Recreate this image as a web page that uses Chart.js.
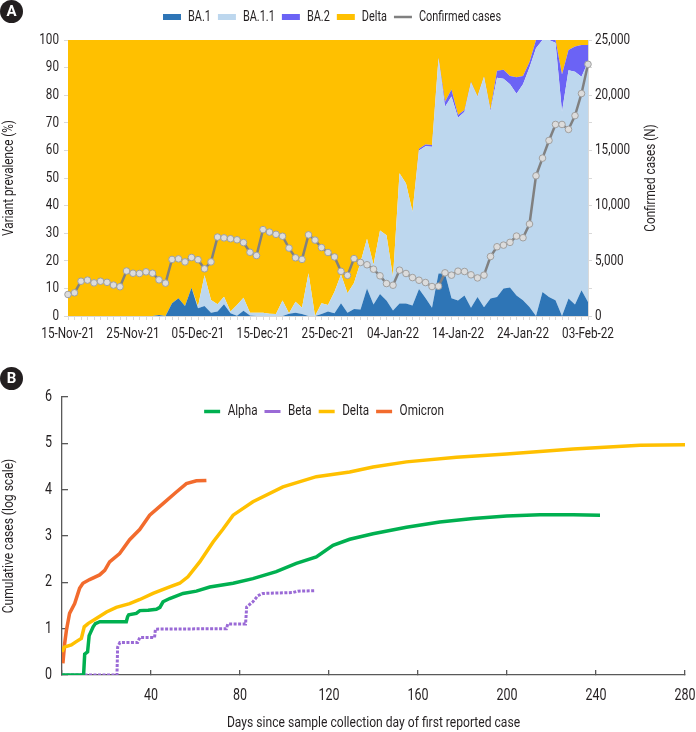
<!DOCTYPE html>
<html>
<head>
<meta charset="utf-8">
<script src="https://cdn.jsdelivr.net/npm/chart.js@4.4.1/dist/chart.umd.min.js"></script>
<style>
  body { margin: 0; width: 696px; height: 732px; background: #fff; position: relative; overflow: hidden; }
  .wrap { position: absolute; left: 0; width: 696px; }
  .badge { position: absolute; width: 23px; height: 23px; border-radius: 50%; background: #231F20; color: #fff;
           font: bold 15px Roboto, 'Liberation Sans', sans-serif; text-align: center; line-height: 23px; }
</style>
</head>
<body>
<div class="wrap" style="top:0;height:345px"><canvas id="chartA" width="696" height="345"></canvas></div>
<div class="wrap" style="top:345px;height:387px"><canvas id="chartB" width="696" height="387"></canvas></div>
<div class="badge" style="left:0;top:0">A</div>
<div class="badge" style="left:0;top:367px">B</div>
<script>
// ---- panel A: variant prevalence by sample date, 15-Nov-21 .. 03-Feb-22 ----
const tickLabelsA = ['15-Nov-21', '25-Nov-21', '05-Dec-21', '15-Dec-21', '25-Dec-21', '04-Jan-22', '14-Jan-22', '24-Jan-22', '03-Feb-22'];

const ba1 = [0,0,0,0,0,0,0,0,0,0,
  0,0,0,0,0.4,0,4.6,6.4,3.6,10.2,
  2.8,3.6,1.2,1.6,4.3,1,0.1,1.9,0.2,0,
  0,0,0,0,0.8,1.2,0.7,0,0,0.7,
  1.6,1,4.6,1.2,2.5,2.4,10,4.2,8,5.6,
  2,4.5,4.5,3.8,9.8,6.5,3,15.4,15.4,6.4,
  5.6,7.4,3,6.9,3.2,6.3,6.9,10,10.3,7.4,
  5.7,3.3,0,8.7,6.9,5.7,0,6.3,4.2,9.3,
  5.1];
const ba11 = [0,0,0,0,0,0,0,0,0,0,
  0,0,0,0,0,0,0,0,0,0,
  0.6,11.2,4.6,2.7,2.7,0.6,3.9,4.7,1.0,1.2,
  1.2,0.8,0.7,5.6,0.2,4.0,2.3,15.5,0,3.9,
  2.4,7.8,10.4,7.0,9.5,17.1,18,14.4,23,23.7,
  12,47.2,43.5,34,50.2,55,58.3,77.9,60.4,73.1,
  66.2,66.6,81.5,72.5,83.4,67.9,79.4,76,73.7,73.1,
  78.3,86.7,97,91.3,93.1,93.3,74,82.7,84.3,77.4,
  86.9];
const ba2 = [0,0,0,0,0,0,0,0,0,0,
  0,0,0,0,0,0,0,0,0,0,
  0,0,0,0,0,0,0,0,0,0,
  0,0,0,0,0,0,0,0,0,0,
  0,0,0,0,0,0,0,0,0,0,
  0,0,0,0,0.6,0.6,0.7,0.3,1.8,2.6,
  1.0,0.6,0.3,0.2,0.2,0.5,2.6,3.2,3,6,
  3,2,3,0,0,1,13.5,7.4,9.1,11.5,
  6.2];
const delta = [100,100,100,100,100,100,100,100,100,100,
  100,100,100,100,99.6,100,95.4,93.6,96.4,89.8,
  96.6,85.2,94.2,95.7,93,98.4,96,93.4,98.8,98.8,
  98.8,99.2,99.3,94.4,99,94.8,97,84.5,100,95.4,
  96,91.2,85,91.8,88,80.5,72,81.4,69,70.7,
  86,48.3,52,62.2,39.4,37.9,38,6.4,22.4,17.9,
  27.2,25.4,15.2,20.4,13.2,25.3,11.1,10.8,13,13.5,
  13,8,0,0,0,0,12.5,3.6,2.4,1.8,
  1.8];
const confirmedCases = [1950,2100,3150,3250,3000,3150,3050,2800,2650,4075,
  3875,3850,4000,3875,3275,2975,5125,5175,4900,5300,
  5100,4275,4900,7150,7075,7000,6900,6650,5775,5475,
  7825,7600,7400,7225,6150,5275,5125,7350,6875,6200,
  5750,5350,4050,3680,5200,4850,4640,4240,3640,2940,
  2790,4150,3850,3480,3240,3030,2670,2700,3910,3700,
  4060,4030,3730,3450,3700,5390,6270,6420,6670,7240,
  7090,8330,12700,14300,15900,17350,17350,16900,18150,20150,
  22800];

// ---- panel B: cumulative cases (log10) by days since first case ----
const alphaDays  = [0,9.7,10.2,11.5,12.2,14,15,17,28.9,29.5,30,33.4,35,38.7,42.4,44,45.4,48.4,54.4,60.4,66.4,76.9,85.8,96.3,105.3,114.3,121.8,129.3,139.8,154.8,169.8,184.8,199.8,214.8,229.8,241.8];
const alphaCases = [0,0,0.45,0.5,0.85,1.04,1.11,1.15,1.15,1.26,1.3,1.33,1.39,1.4,1.42,1.46,1.58,1.65,1.76,1.81,1.9,1.98,2.08,2.23,2.41,2.55,2.8,2.93,3.05,3.19,3.3,3.38,3.43,3.46,3.46,3.45];
const betaDays   = [0,24.7,25,26,34,35,41.6,42,73.9,74.5,82.5,83,85.8,88,90.3,103.8,106,113.6];
const betaCases  = [0,0,0.6,0.7,0.7,0.81,0.81,0.99,1.0,1.1,1.1,1.47,1.58,1.71,1.76,1.78,1.81,1.82];
const deltaDays  = [0,1,4.2,6.4,8.7,10,11.7,15.4,20,24.4,30.4,35,40.9,48.4,52.9,56.6,61.9,67.9,72.4,76.9,85.8,99.3,114.3,129.3,139.8,154.8,177.3,199.8,229.8,259.8,280];
const deltaCases = [0.5,0.6,0.65,0.72,0.79,1.04,1.11,1.22,1.36,1.46,1.54,1.63,1.76,1.9,1.98,2.12,2.44,2.87,3.15,3.45,3.74,4.06,4.28,4.38,4.49,4.6,4.7,4.77,4.88,4.96,4.97];
const omicronDays  = [0.4,1.2,2,3.4,5.7,7.9,9.4,12.4,16.9,19.2,21.4,25.9,30.4,34.9,39.4,45.4,51.4,55.9,60.4,64.9];
const omicronCases = [0.25,0.68,0.97,1.33,1.54,1.87,1.98,2.06,2.16,2.26,2.44,2.62,2.92,3.14,3.45,3.7,3.95,4.13,4.19,4.2];

const FONT = "Roboto, 'Liberation Sans', sans-serif";
const TEXT = '#231F20';
const SQUEEZE = 0.78;   // no condensed face installed, so squeeze the text horizontally
Chart.defaults.font.family = FONT;
Chart.defaults.font.size = 15;
Chart.defaults.color = TEXT;
Chart.defaults.animation = false;

function condensed(canvas) {
  const ctx = canvas.getContext('2d');
  const fill = ctx.fillText.bind(ctx);
  const measure = ctx.measureText.bind(ctx);
  ctx.fillText = function (text, x, y, maxWidth) {
    ctx.save();
    ctx.translate(x, y);
    ctx.scale(SQUEEZE, 1);
    if (maxWidth === undefined) fill(text, 0, 0);
    else fill(text, 0, 0, maxWidth / SQUEEZE);
    ctx.restore();
  };
  ctx.measureText = function (text) {
    const m = measure(text);
    return {
      width: m.width * SQUEEZE,
      actualBoundingBoxLeft: m.actualBoundingBoxLeft * SQUEEZE,
      actualBoundingBoxRight: m.actualBoundingBoxRight * SQUEEZE,
      actualBoundingBoxAscent: m.actualBoundingBoxAscent,
      actualBoundingBoxDescent: m.actualBoundingBoxDescent,
      fontBoundingBoxAscent: m.fontBoundingBoxAscent,
      fontBoundingBoxDescent: m.fontBoundingBoxDescent
    };
  };
  return canvas;
}

// category list: one entry per day from 15-Nov-21
const MONTHS = ['Jan','Feb','Mar','Apr','May','Jun','Jul','Aug','Sep','Oct','Nov','Dec'];
const days = [];
for (let i = 0; i < confirmedCases.length; i++) {
  const d = new Date(2021, 10, 15 + i);
  days.push(String(d.getDate()).padStart(2, '0') + '-' + MONTHS[d.getMonth()] + '-' + String(d.getFullYear()).slice(2));
}

// move the legend (reference legend is not centred on the canvas)
const legendShift = {
  id: 'legendShift',
  afterLayout(chart, args, opts) {
    const l = chart.legend;
    if (!l) return;
    l.left += opts.dx || 0; l.right += opts.dx || 0;
    l.top += opts.dy || 0; l.bottom += opts.dy || 0;
  }
};

// right axis title reads bottom-to-top in the reference
const rightTitle = {
  id: 'rightTitle',
  afterDraw(chart) {
    const ctx = chart.ctx, a = chart.chartArea;
    ctx.save();
    ctx.translate(chart.scales.y1.right - 45, (a.top + a.bottom) / 2);
    ctx.rotate(-Math.PI / 2);
    ctx.font = '15px ' + FONT;
    ctx.fillStyle = TEXT;
    ctx.textAlign = 'center';
    ctx.textBaseline = 'middle';
    ctx.fillText('Confirmed cases (N)', 0, 0);
    ctx.restore();
  }
};

function area(label, data, color, fill) {
  return { label, data, backgroundColor: color, borderColor: 'rgba(0,0,0,0)', borderWidth: 1,
           fill, pointRadius: 0, tension: 0, yAxisID: 'y', order: 1 };
}

new Chart(condensed(document.getElementById('chartA')), {
  type: 'line',
  data: {
    labels: days,
    datasets: [
      area('BA.1', ba1, '#2E75B6', 'origin'),
      area('BA.1.1', ba11, '#BDD7EE', '-1'),
      area('BA.2', ba2, '#6B63F5', '-1'),
      area('Delta', delta, '#FFC000', '-1'),
      { label: 'Confirmed cases', data: confirmedCases, yAxisID: 'y1', order: 0,
        borderColor: '#808080', backgroundColor: '#808080', borderWidth: 2.5, tension: 0, fill: false,
        pointRadius: 3.3, pointBorderWidth: 1, pointBackgroundColor: '#DCDCDC', pointBorderColor: '#A0A0A0' }
    ]
  },
  options: {
    responsive: false,
    layout: { padding: 0 },
    plugins: {
      legend: {
        labels: {
          usePointStyle: true, pointStyleWidth: 18, padding: 7, font: { size: 14 }, color: TEXT,
          sort: (a, b) => a.datasetIndex - b.datasetIndex,
          generateLabels: chart => Chart.defaults.plugins.legend.labels.generateLabels(chart).map(item =>
            Object.assign(item, { pointStyle: 'line', lineWidth: item.datasetIndex < 4 ? 6 : 2.5,
                                  strokeStyle: chart.data.datasets[item.datasetIndex].backgroundColor }))
        }
      },
      tooltip: { enabled: false },
      legendShift: { dx: -16, dy: -6 }
    },
    scales: {
      x: {
        type: 'category',
        offset: false,
        grid: { drawOnChartArea: false, color: '#D9D9D9', tickLength: 4, offset: false },
        border: { color: '#D9D9D9' },
        ticks: { autoSkip: false, maxRotation: 0, padding: 5,
                 callback: (v, i) => (i % 10 === 0 ? tickLabelsA[i / 10] : '') },
        afterFit: s => { s.height = 29; s.paddingLeft = 0; s.paddingRight = 0; }
      },
      y: {
        stacked: true, min: 0, max: 100,
        ticks: { stepSize: 10, padding: 5 },
        grid: { drawOnChartArea: false, color: '#D9D9D9', tickLength: 4 },
        border: { color: '#D9D9D9' },
        title: { display: true, text: 'Variant prevalence (%)', padding: 0 },
        afterFit: s => { s.width = 68; s.paddingTop = 40; s.paddingBottom = 0; }
      },
      y1: {
        position: 'right', min: 0, max: 25000,
        ticks: { stepSize: 2500, padding: 3,
                 callback: v => (v % 5000 === 0 ? v.toLocaleString('en-US') : '') },
        grid: { drawOnChartArea: false, color: '#D9D9D9', tickLength: 4 },
        border: { color: '#D9D9D9' },
        afterFit: s => { s.width = 108; s.paddingTop = 40; s.paddingBottom = 0; }
      }
    }
  },
  plugins: [legendShift, rightTitle]
});

function series(label, xs, ys, color, extra) {
  return Object.assign({ label, data: xs.map((x, i) => ({ x, y: ys[i] })),
    borderColor: color, backgroundColor: color, borderWidth: 3.5, pointRadius: 0,
    pointStyle: 'line', tension: 0, fill: false }, extra || {});
}

const AXIS = '#595959';
new Chart(condensed(document.getElementById('chartB')), {
  type: 'line',
  data: {
    datasets: [
      series('Alpha', alphaDays, alphaCases, '#00B050'),
      series('Beta', betaDays, betaCases, '#9A6AD6', { borderWidth: 3, borderDash: [3, 1.5] }),
      series('Delta', deltaDays, deltaCases, '#FFC000'),
      series('Omicron', omicronDays, omicronCases, '#F26B2D')
    ]
  },
  options: {
    responsive: false,
    layout: { padding: 0 },
    plugins: {
      legend: {
        labels: { usePointStyle: true, pointStyleWidth: 16, padding: 7, font: { size: 15 }, color: TEXT }
      },
      tooltip: { enabled: false },
      legendShift: { dx: -24, dy: 32 }
    },
    scales: {
      x: {
        type: 'linear', min: 0, max: 280,
        ticks: { stepSize: 40, padding: 16, font: { size: 16 }, callback: v => (v === 0 ? '' : v) },
        grid: { drawOnChartArea: false, color: AXIS, lineWidth: 1.3, tickLength: -5 },
        border: { color: AXIS, width: 1.3 },
        title: { display: true, text: 'Days since sample collection day of first reported case', padding: 0, font: { size: 15.5 } },
        afterFit: s => { s.height = 57; s.paddingLeft = 0; s.paddingRight = 11; }
      },
      y: {
        min: 0, max: 6,
        ticks: { stepSize: 1, padding: 16, font: { size: 16 } },
        grid: { drawOnChartArea: false, color: AXIS, lineWidth: 1.3, tickLength: -6 },
        border: { color: AXIS, width: 1.3 },
        title: { display: true, text: 'Cumulative cases (log scale)', padding: 0, font: { size: 15.5 } },
        afterFit: s => { s.width = 62; s.paddingTop = 52; s.paddingBottom = 0; }
      }
    }
  },
  plugins: [legendShift]
});
</script>
</body>
</html>
